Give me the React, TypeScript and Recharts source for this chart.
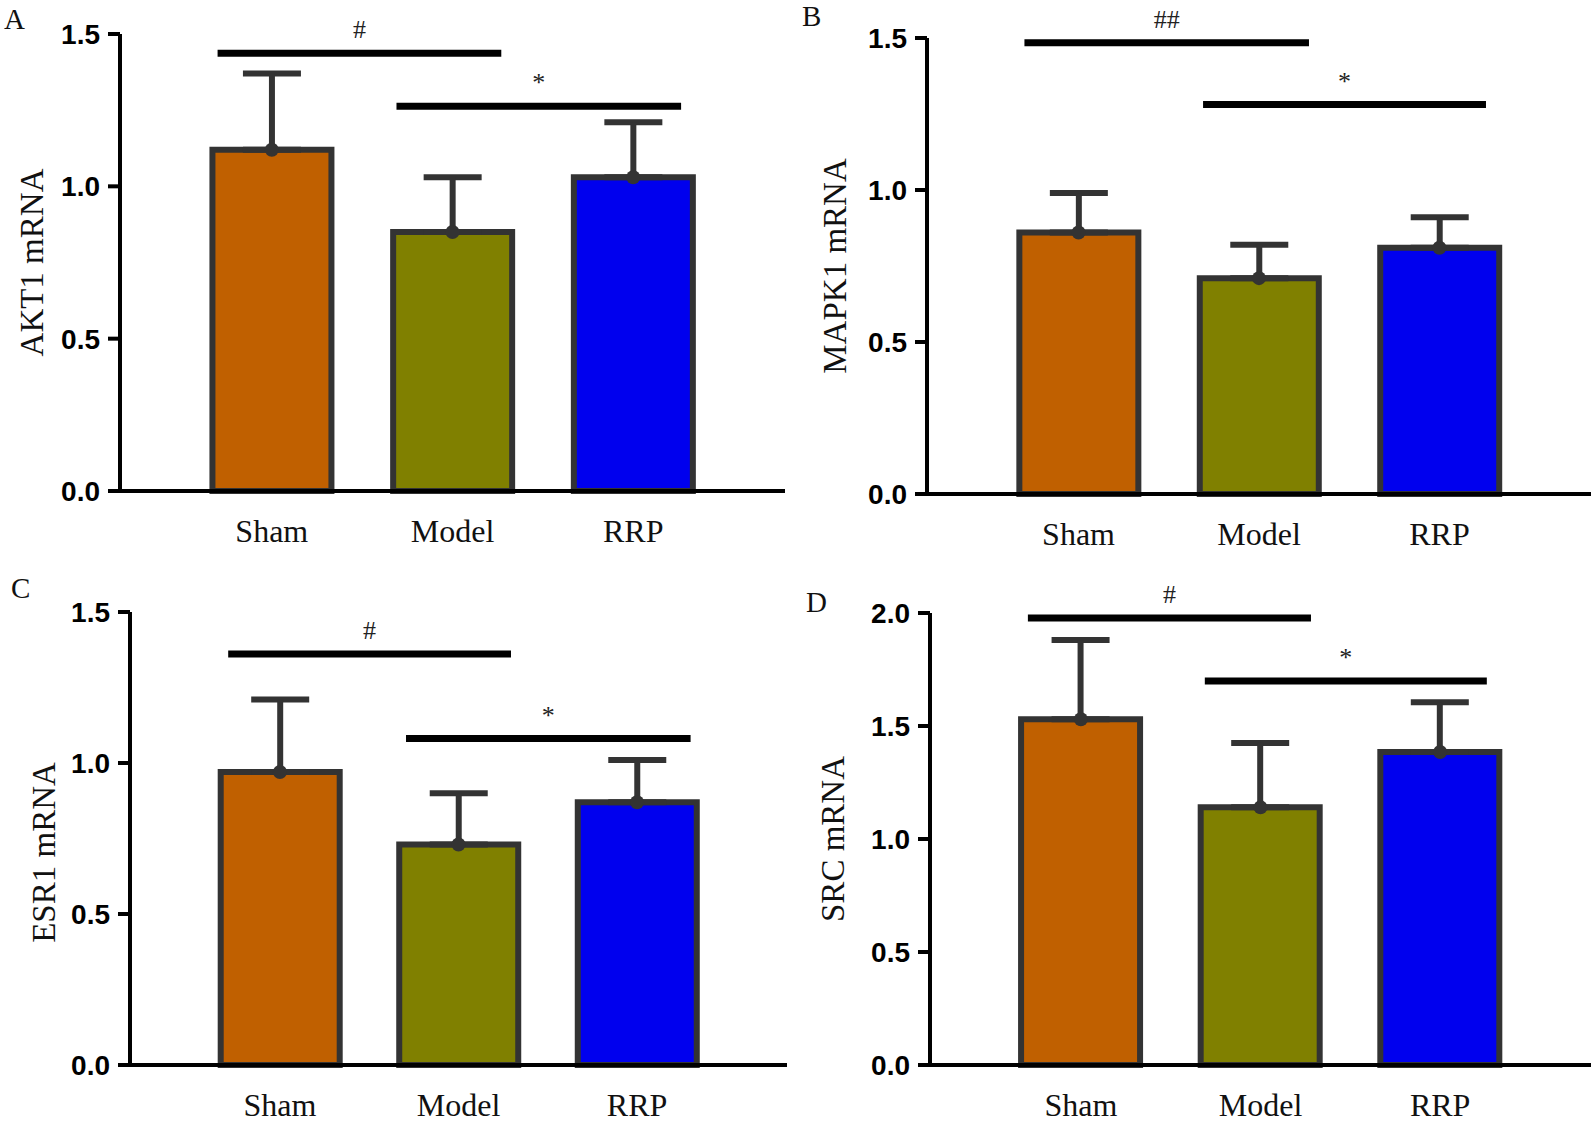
import {
  ComposedChart,
  Bar,
  Cell,
  ErrorBar,
  Line,
  XAxis,
  YAxis,
  ReferenceLine,
} from "recharts";

// groups and colours
const groups = ["Sham", "Model", "RRP"];
const groupColors = ["#C06000", "#808000", "#0000EE"];

// relative mRNA expression, mean and SD (upper error only)
const akt1Mean = [1.12, 0.85, 1.03];
const akt1Sd = [0.25, 0.18, 0.18];
const mapk1Mean = [0.86, 0.71, 0.81];
const mapk1Sd = [0.13, 0.11, 0.1];
const esr1Mean = [0.97, 0.73, 0.87];
const esr1Sd = [0.24, 0.17, 0.14];
const srcMean = [1.53, 1.14, 1.385];
const srcSd = [0.35, 0.285, 0.22];

// y tick labels
const ticks15 = [0, 0.5, 1.0, 1.5];
const ticks20 = [0, 0.5, 1.0, 1.5, 2.0];

// significance brackets: from group x1 to x2 at height y
const akt1Sig = [
  { x1: -0.3, x2: 1.27, y: 1.437, mark: "#" },
  { x1: 0.69, x2: 2.265, y: 1.263, mark: "*" },
];
const mapk1Sig = [
  { x1: -0.3, x2: 1.277, y: 1.484, mark: "##" },
  { x1: 0.69, x2: 2.258, y: 1.281, mark: "*" },
];
const esr1Sig = [
  { x1: -0.29, x2: 1.294, y: 1.361, mark: "#" },
  { x1: 0.706, x2: 2.3, y: 1.081, mark: "*" },
];
const srcSig = [
  { x1: -0.295, x2: 1.281, y: 1.978, mark: "#" },
  { x1: 0.69, x2: 2.26, y: 1.699, mark: "*" },
];

const SERIF = "'Liberation Serif', 'Times New Roman', serif";
const SANS = "'Liberation Sans', Arial, sans-serif";

function buildData(mean: number[], sd: number[]) {
  return groups.map((g, i) => ({ x: i, name: g, mean: mean[i], err: [0, sd[i]] }));
}

function AxisTitle(props: any) {
  const vb = props.viewBox || { x: 0, y: 0, width: 0, height: 0 };
  const cx = vb.x + props.titleX;
  const cy = vb.y + vb.height / 2 + (props.titleDy || 0);
  return (
    <text
      x={cx}
      y={cy}
      transform={`rotate(-90, ${cx}, ${cy})`}
      textAnchor="middle"
      dominantBaseline="central"
      fontFamily={SERIF}
      fontSize={33}
      fill="#111"
    >
      {props.text}
    </text>
  );
}

interface PanelProps {
  title: string;
  mean: number[];
  sd: number[];
  ticks: number[];
  sig: { x1: number; x2: number; y: number; mark: string }[];
  left: number;
  top: number;
  width: number;
  height: number;
  marginTop: number;
  marginRight: number;
  yWidth: number;
  xHeight: number;
  titleX: number;
  titleDy?: number;
}

function Panel(p: PanelProps) {
  const data = buildData(p.mean, p.sd);
  const yMax = p.ticks[p.ticks.length - 1];
  return (
    <div style={{ position: "absolute", left: p.left, top: p.top }}>
      <ComposedChart
        width={p.width}
        height={p.height}
        data={data}
        margin={{ top: p.marginTop, right: p.marginRight, left: 0, bottom: 0 }}
      >
        <XAxis
          type="number"
          dataKey="x"
          domain={[-0.84, 2.84]}
          ticks={[0, 1, 2]}
          interval={0}
          tickFormatter={(v: number) => groups[v]}
          height={p.xHeight}
          tickLine={false}
          tickSize={0}
          tickMargin={28}
          axisLine={{ stroke: "#000", strokeWidth: 4 }}
          tick={{ fontFamily: SERIF, fontSize: 32, fill: "#111" }}
        />
        <YAxis
          type="number"
          domain={[0, yMax]}
          ticks={p.ticks}
          interval={0}
          width={p.yWidth}
          tickFormatter={(v: number) => v.toFixed(1)}
          tickSize={12}
          tickMargin={8}
          axisLine={{ stroke: "#000", strokeWidth: 4 }}
          tickLine={{ stroke: "#000", strokeWidth: 4 }}
          tick={{ fontFamily: SANS, fontSize: 28, fontWeight: 700, fill: "#000" }}
          label={<AxisTitle text={p.title} titleX={p.titleX} titleDy={p.titleDy} />}
        />
        <Bar
          dataKey="mean"
          barSize={119}
          stroke="#333"
          strokeWidth={6}
          isAnimationActive={false}
        >
          {data.map((d, i) => (
            <Cell key={d.name} fill={groupColors[i]} />
          ))}
          <ErrorBar
            dataKey="err"
            direction="y"
            width={29}
            stroke="#333"
            strokeWidth={6}
            isAnimationActive={false}
          />
        </Bar>
        <Line
          dataKey="mean"
          stroke="none"
          dot={{ r: 7, fill: "#333", stroke: "none" }}
          activeDot={false}
          isAnimationActive={false}
        />
        {p.sig.map((s) => (
          <ReferenceLine
            key={s.mark + s.y}
            segment={[
              { x: s.x1, y: s.y },
              { x: s.x2, y: s.y },
            ]}
            stroke="#000"
            strokeWidth={7}
            ifOverflow="visible"
            label={{
              value: s.mark,
              position: "top",
              offset: 15,
              fontFamily: SERIF,
              fontSize: 26,
              fill: "#222",
            }}
          />
        ))}
      </ComposedChart>
    </div>
  );
}

export default function App() {
  return (
    <div
      style={{
        position: "absolute",
        left: 0,
        top: 0,
        width: 1593,
        height: 1124,
        background: "#fff",
        overflow: "hidden",
      }}
    >
      <Panel
        title="AKT1 mRNA"
        mean={akt1Mean}
        sd={akt1Sd}
        ticks={ticks15}
        sig={akt1Sig}
        left={0}
        top={0}
        width={796}
        height={560}
        marginTop={34}
        marginRight={11}
        yWidth={120}
        xHeight={69}
        titleX={32}
      />
      <Panel
        title="MAPK1 mRNA"
        mean={mapk1Mean}
        sd={mapk1Sd}
        ticks={ticks15}
        sig={mapk1Sig}
        left={800}
        top={0}
        width={793}
        height={560}
        marginTop={38}
        marginRight={2}
        yWidth={127}
        xHeight={66}
        titleX={35}
      />
      <Panel
        title="ESR1 mRNA"
        mean={esr1Mean}
        sd={esr1Sd}
        ticks={ticks15}
        sig={esr1Sig}
        left={0}
        top={560}
        width={796}
        height={564}
        marginTop={52}
        marginRight={9}
        yWidth={130}
        xHeight={59}
        titleX={44}
        titleDy={14}
      />
      <Panel
        title="SRC mRNA"
        mean={srcMean}
        sd={srcSd}
        ticks={ticks20}
        sig={srcSig}
        left={800}
        top={560}
        width={793}
        height={564}
        marginTop={53}
        marginRight={2}
        yWidth={130}
        xHeight={59}
        titleX={33}
      />
      <svg
        width={1593}
        height={1124}
        style={{ position: "absolute", left: 0, top: 0, pointerEvents: "none" }}
      >
        <g fontFamily={SERIF} fontSize={29} fill="#111">
          <text x={4} y={29}>A</text>
          <text x={802} y={26}>B</text>
          <text x={11} y={598}>C</text>
          <text x={806} y={612}>D</text>
        </g>
      </svg>
    </div>
  );
}
